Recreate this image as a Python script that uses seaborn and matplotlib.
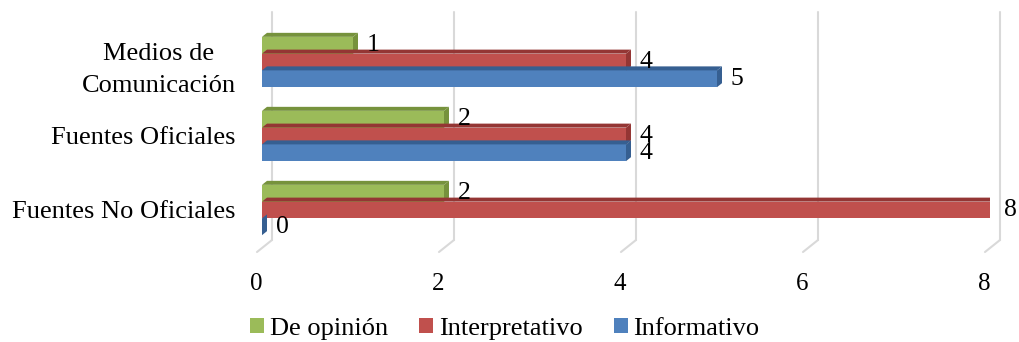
import matplotlib
matplotlib.use("Agg")
import matplotlib.pyplot as plt
import matplotlib.transforms as mtransforms
from matplotlib.patches import Polygon
import numpy as np
import pandas as pd
import seaborn as sns

# data
fuentes = ["Medios de\nComunicación", "Fuentes Oficiales", "Fuentes No Oficiales"]
tipos = ["De opinión", "Interpretativo", "Informativo"]
de_opinion = [1, 2, 2]
interpretativo = [4, 4, 8]
informativo = [5, 4, 0]
x_ticks = [0, 2, 4, 6, 8]

colores = ["#9BBB59", "#C0504D", "#4F81BD"]
oscuros = ["#76923C", "#943634", "#365F91"]

df = pd.DataFrame({
    "fuente": fuentes * 3,
    "tipo": [t for t in tipos for _ in fuentes],
    "valor": de_opinion + interpretativo + informativo,
})

sns.set_style("white")
plt.rcParams["font.family"] = ["Liberation Serif", "DejaVu Serif"]
plt.rcParams["text.color"] = "black"
plt.rcParams["xtick.color"] = "black"
plt.rcParams["ytick.color"] = "black"

W, H = 1019, 342
fig = plt.figure(figsize=(W / 100, H / 100), dpi=100)
# axes box in pixels: left 262, right 990, top 25, bottom 247
ax = fig.add_axes([262 / W, 1 - 247 / H, 728 / W, 222 / H])

sns.barplot(data=df, x="valor", y="fuente", hue="tipo", orient="h",
            order=fuentes, hue_order=tipos, palette=colores, width=0.68,
            saturation=1, linewidth=0, ax=ax)

ax.set_xlim(0, 8)
ax.set_ylim(2.5, -0.5)
ax.set_xticks(x_ticks)
ax.set_yticks(range(len(fuentes)))
ax.set_yticklabels(fuentes, linespacing=1.6, multialignment="center")
ax.set_xlabel("")
ax.set_ylabel("")
for s in ax.spines.values():
    s.set_visible(False)
ax.tick_params(axis="y", length=0, pad=19, labelsize=19)
ax.tick_params(axis="x", length=0, pad=19, labelsize=18)
off = mtransforms.ScaledTranslation(-6 / 100, 0, fig.dpi_scale_trans)
for lab in ax.get_xticklabels():
    lab.set_transform(lab.get_transform() + off)

# back-wall gridlines with a short floor segment (3D look)
back = mtransforms.ScaledTranslation(10 / 100, 0, fig.dpi_scale_trans)
front = mtransforms.ScaledTranslation(-5 / 100, 0, fig.dpi_scale_trans)
blend = mtransforms.blended_transform_factory(ax.transData, ax.transAxes)
y_top, y_wall, y_floor = (247 - 12) / 222, (247 - 240) / 222, (247 - 252) / 222
for v in x_ticks:
    ax.plot([v, v], [y_top, y_wall], transform=blend + back,
            color="#D9D9D9", lw=1.5, clip_on=False, zorder=0)
    p0 = (blend + back).transform((v, y_wall))
    p1 = (blend + front).transform((v, y_floor))
    ax.plot([p0[0], p1[0]], [p0[1], p1[1]], transform=None,
            color="#D9D9D9", lw=1.5, clip_on=False, zorder=0)

# depth faces of the bars
dx = 5 * (8 / 728)
dy = 4 * (3 / 222)
up = mtransforms.ScaledTranslation(0, 3 / 100, fig.dpi_scale_trans)
for cont, osc in zip(ax.containers, oscuros):
    for bar in cont:
        x0, y0 = bar.get_x(), bar.get_y()
        w, h = bar.get_width(), bar.get_height()
        top = Polygon([(x0, y0), (x0 + w, y0), (x0 + w + dx, y0 - dy),
                       (x0 + dx, y0 - dy)], closed=True, color=osc, lw=0,
                      zorder=bar.get_zorder())
        side = Polygon([(x0 + w, y0), (x0 + w + dx, y0 - dy),
                        (x0 + w + dx, y0 + h - dy), (x0 + w, y0 + h)],
                       closed=True, color=osc, lw=0, zorder=bar.get_zorder())
        ax.add_patch(top)
        ax.add_patch(side)
    for t in ax.bar_label(cont, padding=10, fontsize=18.5):
        t.set_transform(t.get_transform() + up)

handles, labels = ax.get_legend_handles_labels()
ax.get_legend().remove()
fig.legend(handles, labels, loc="center", bbox_to_anchor=(505 / W, 1 - 329 / H),
           ncol=3, frameon=False, fontsize=19, handlelength=0.53,
           handleheight=0.53, handletextpad=0.2, columnspacing=1.2,
           borderpad=0)

fig.savefig("out.png", dpi=100)
